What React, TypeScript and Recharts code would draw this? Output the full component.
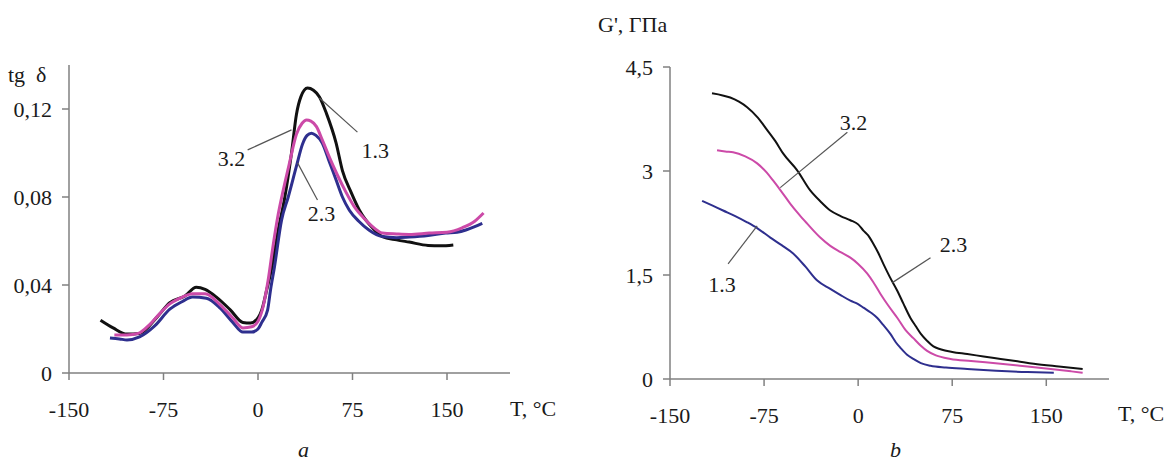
import React from 'react';
import { LineChart, Line, XAxis, YAxis, ReferenceLine, ReferenceDot } from 'recharts';

// ---------- data ----------
const xTicks = [-150, -75, 0, 75, 150];
const leftYTicks = [0, 0.04, 0.08, 0.12];
const rightYTicks = [0, 1.5, 3, 4.5];

// left chart: tg δ vs T
const leftBlack = [
  [-125, 0.024], [-115, 0.0205], [-104, 0.0177], [-94, 0.018], [-80, 0.0255], [-70, 0.032], [-58, 0.035],
  [-49, 0.039], [-42, 0.038], [-33, 0.0345], [-22, 0.0287], [-12, 0.023], [-6, 0.0227], [0, 0.025],
  [3, 0.0286], [7, 0.038], [11, 0.048], [16, 0.065], [21, 0.079], [26.6, 0.1], [30.5, 0.1175], [34, 0.1255],
  [39.3, 0.1295], [44, 0.1285], [48.8, 0.1255], [54.3, 0.118], [62, 0.1045], [67, 0.092], [74, 0.082],
  [80.5, 0.074], [90.8, 0.066], [98.7, 0.062], [110, 0.0605], [120, 0.0595], [135, 0.058], [145, 0.0578],
  [155, 0.0582],
];
const leftMagenta = [
  [-114, 0.0173], [-104, 0.0173], [-95, 0.018], [-86, 0.022], [-78, 0.027], [-70, 0.0314], [-60, 0.0345],
  [-52, 0.036], [-42, 0.036], [-30, 0.031], [-20, 0.025], [-12, 0.0205], [-5, 0.021], [0, 0.0235],
  [4, 0.03], [8, 0.042], [12, 0.058], [16, 0.072], [20, 0.083], [25, 0.0955], [30.5, 0.1085], [35, 0.1135],
  [38.5, 0.115], [42, 0.1145], [46.4, 0.112], [51, 0.106], [56.7, 0.098], [63, 0.09], [70, 0.082],
  [76, 0.076], [83, 0.071], [90, 0.067], [98.7, 0.0636], [110, 0.0632], [120, 0.063], [136, 0.0636],
  [150, 0.064], [162, 0.066], [172, 0.069], [179, 0.0727],
];
const leftBlue = [
  [-117.5, 0.0159], [-110, 0.0155], [-104, 0.015], [-94, 0.0164], [-82, 0.0214], [-70, 0.029], [-60, 0.0325],
  [-52, 0.0345], [-41, 0.034], [-30, 0.0295], [-20, 0.023], [-12, 0.0186], [-5, 0.0186], [0, 0.02],
  [3, 0.023], [7.6, 0.0286], [10, 0.038], [13, 0.048], [18.7, 0.0695], [24, 0.08], [30.5, 0.094],
  [35.3, 0.104], [39, 0.108], [42.4, 0.109], [46, 0.108], [51, 0.1045], [56, 0.097], [62, 0.0877],
  [67, 0.08], [72.5, 0.074], [80, 0.069], [88, 0.065], [98.7, 0.062], [110, 0.0615], [120, 0.0618],
  [135, 0.0625], [149, 0.0636], [158, 0.064], [165, 0.065], [172, 0.0665], [178, 0.068],
];

// right chart: G' (GPa) vs T
const rightBlack = [
  [-116.5, 4.12], [-108, 4.09], [-102, 4.06], [-95, 4.0], [-88.5, 3.92], [-80, 3.77], [-72.5, 3.59],
  [-66, 3.43], [-59.7, 3.25], [-48.6, 3.01], [-38.2, 2.72], [-30, 2.56], [-22.2, 2.43], [-14, 2.35],
  [-6.2, 2.29], [0, 2.23], [4.2, 2.14], [8, 2.07], [12.1, 1.95], [16, 1.82], [20.1, 1.66], [25, 1.48],
  [31.3, 1.27], [36, 1.09], [41.7, 0.88], [46, 0.76], [50, 0.65], [55, 0.55], [60, 0.47], [65.6, 0.43],
  [75, 0.39], [87, 0.36], [100, 0.325], [113.6, 0.29], [127, 0.255], [140, 0.22], [160, 0.18], [179, 0.145],
];
const rightMagenta = [
  [-112.5, 3.3], [-106, 3.28], [-99.7, 3.27], [-90, 3.21], [-80.5, 3.11], [-73, 2.98], [-67.7, 2.86],
  [-61, 2.7], [-54.2, 2.53], [-47, 2.37], [-40.6, 2.24], [-30.2, 2.04], [-22.2, 1.92], [-14, 1.83],
  [-6.2, 1.75], [0, 1.66], [7.3, 1.52], [12, 1.4], [17.7, 1.23], [24, 1.06], [31.3, 0.88], [38, 0.7],
  [44, 0.59], [50, 0.48], [55, 0.405], [62, 0.34], [73.6, 0.29], [90, 0.26], [113.6, 0.22], [135, 0.18],
  [153.5, 0.145], [170, 0.11], [179, 0.09],
];
const rightBlue = [
  [-124.4, 2.57], [-116, 2.5], [-107.7, 2.43], [-98, 2.35], [-88.5, 2.26], [-80, 2.17], [-70, 2.04],
  [-61, 1.93], [-51.8, 1.81], [-42, 1.62], [-32.6, 1.42], [-22.2, 1.3], [-14, 1.21], [-6.2, 1.13],
  [0, 1.08], [4.2, 1.03], [10, 0.96], [15.3, 0.88], [20, 0.78], [25.7, 0.65], [30, 0.53], [33.7, 0.45],
  [39, 0.35], [44, 0.29], [50, 0.23], [57.7, 0.19], [70, 0.165], [87, 0.145], [110, 0.12], [135, 0.1],
  [156, 0.09],
];

// curve annotations: label, label position [T, v], leader line [[T1, v1], [T2, v2]]
const leftNotes = [
  { text: '3.2', at: [-21, 0.0975], line: [[-8.2, 0.1014], [26.6, 0.1105]] },
  { text: '1.3', at: [93, 0.1015], line: [[78.9, 0.1095], [48.8, 0.125]] },
  { text: '2.3', at: [50.4, 0.0725], line: [[47.2, 0.0786], [31.4, 0.0955]] },
];
const rightNotes = [
  { text: '3.2', at: [-3.8, 3.7], line: [[-8.6, 3.56], [-62.1, 2.76]] },
  { text: '2.3', at: [76, 1.95], line: [[57.7, 1.75], [27.3, 1.39]] },
  { text: '1.3', at: [-108.5, 1.37], line: [[-103.7, 1.66], [-80.5, 2.21]] },
];

const toRows = (arr: number[][]) => arr.map(([T, v]) => ({ T, v }));

const SERIF = '"Liberation Serif", "DejaVu Serif", serif';
const AXIS = '#808080';
const BLACK = '#111111';
const MAGENTA = '#cc4aa8';
const BLUE = '#2e2f8e';
const FS = 22;

const tickStyle = { fontSize: FS, fontFamily: SERIF, fill: '#1a1a1a' };

const fmtComma = (v: number) => (v === 0 ? '0' : String(v).replace('.', ','));

function Panel(props: {
  width: number; height: number; margin: any; yDomain: number[]; yTicks: number[];
  series: { data: number[][]; color: string }[]; notes: any[]; strokeWidth: number;
}) {
  const { width, height, margin, yDomain, yTicks, series, notes, strokeWidth } = props;
  return (
    <LineChart width={width} height={height} margin={margin} style={{ fontFamily: SERIF }}>
      <XAxis
        dataKey="T" type="number" domain={[-150, 200]} ticks={xTicks} allowDataOverflow
        stroke={AXIS} strokeWidth={1.5} tickSize={7} tickMargin={21} tick={tickStyle} height={30}
        tickLine={{ stroke: AXIS, strokeWidth: 1.5 }}
      />
      <YAxis
        type="number" domain={yDomain} ticks={yTicks} allowDataOverflow width={60}
        stroke={AXIS} strokeWidth={1.5} tickSize={7} tickMargin={10} tick={tickStyle}
        tickFormatter={fmtComma} tickLine={{ stroke: AXIS, strokeWidth: 1.5 }}
      />
      {series.map((s, i) => (
        <Line
          key={i} data={toRows(s.data)} dataKey="v" type="monotone" stroke={s.color}
          strokeWidth={strokeWidth} dot={false} isAnimationActive={false}
        />
      ))}
      {notes.map((n, i) => (
        <ReferenceLine
          key={'l' + i}
          segment={[{ x: n.line[0][0], y: n.line[0][1] }, { x: n.line[1][0], y: n.line[1][1] }]}
          stroke="#555" strokeWidth={1.2} ifOverflow="visible"
        />
      ))}
      {notes.map((n, i) => (
        <ReferenceDot
          key={'d' + i} x={n.at[0]} y={n.at[1]} r={0} fill="none" stroke="none" ifOverflow="visible"
          label={{ value: n.text, position: 'center', fontSize: FS, fontFamily: SERIF, fill: '#1a1a1a' }}
        />
      ))}
    </LineChart>
  );
}

const txt = (left: number, cy: number, s: string, extra: any = {}) => (
  <div
    style={{
      position: 'absolute', left, top: cy - 12, fontFamily: SERIF, fontSize: FS, lineHeight: '24px',
      color: '#1a1a1a', whiteSpace: 'pre', ...extra,
    }}
  >
    {s}
  </div>
);

export default function App() {
  return (
    <div style={{ position: 'absolute', left: 0, top: 0, width: 1173, height: 465, background: '#fff', overflow: 'hidden' }}>
      <div style={{ position: 'absolute', left: 0, top: 0 }}>
        <Panel
          width={560} height={465}
          margin={{ top: 65, left: 9, right: 50, bottom: 62 }}
          yDomain={[0, 0.14]} yTicks={leftYTicks} strokeWidth={3}
          series={[
            { data: leftBlack, color: BLACK },
            { data: leftBlue, color: BLUE },
            { data: leftMagenta, color: MAGENTA },
          ]}
          notes={leftNotes}
        />
      </div>
      <div style={{ position: 'absolute', left: 580, top: 0 }}>
        <Panel
          width={593} height={465}
          margin={{ top: 67, left: 30, right: 64, bottom: 56 }}
          yDomain={[0, 4.5]} yTicks={rightYTicks} strokeWidth={2}
          series={[
            { data: rightBlack, color: BLACK },
            { data: rightMagenta, color: MAGENTA },
            { data: rightBlue, color: BLUE },
          ]}
          notes={rightNotes}
        />
      </div>
      {txt(8, 75, 'tg  δ')}
      {txt(598, 25, "G', ГПа")}
      {txt(510, 409, 'T, °C')}
      {txt(1118, 414, 'T, °C')}
      {txt(298, 450, 'a', { fontStyle: 'italic' })}
      {txt(890, 450, 'b', { fontStyle: 'italic' })}
    </div>
  );
}
